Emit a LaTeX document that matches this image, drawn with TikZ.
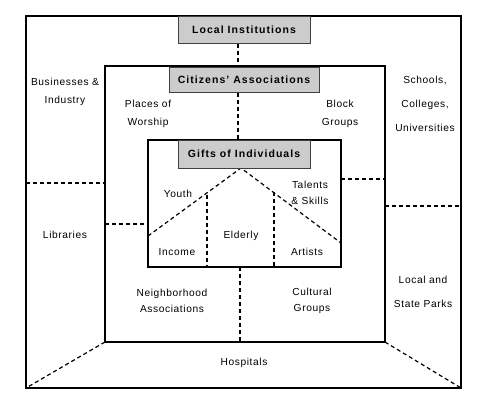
\documentclass[tikz,border=0pt]{standalone}
\usepackage{fontspec}
\setmainfont{Liberation Sans}[LetterSpace=6]
\begin{document}
\begin{tikzpicture}[x=1pt,y=-1pt,
  lbl/.style={font=\fontsize{10.2}{18}\selectfont, align=center, inner sep=0pt},
  titlebox/.style={draw=black!75, fill=black!20, line width=0.8pt, font=\fontsize{10.5}{12}\selectfont\bfseries\addfontfeature{LetterSpace=10}, inner sep=0pt},
  frame1/.style={draw=black, line width=2.6pt},
  frame2/.style={draw=black, line width=2.2pt},
  dsh/.style={draw=black, line width=1.2pt, dash pattern=on 4pt off 3pt}]
\useasboundingbox (0,0) rectangle (487,408);
% frames
\coordinate (oTL) at (26,16); \coordinate (oBR) at (461,388);
\coordinate (oBL) at (26,388); \coordinate (oTR) at (461,16);
\coordinate (mTL) at (105,66); \coordinate (mBR) at (385,342);
\coordinate (mBL) at (105,342); \coordinate (mTR) at (385,66);
\coordinate (iTL) at (148,140); \coordinate (iBR) at (341,267);
\coordinate (iBL) at (148,267); \coordinate (iTR) at (341,140);
% dashed connectors
\draw[dsh] (mBL) -- (oBL);
\draw[dsh] (mBR) -- (oBR);
\draw[dsh] (26,183) -- (105,183);
\draw[dsh] (105,224) -- (148,224);
\draw[dsh] (341,179) -- (385,179);
\draw[dsh] (385,206) -- (461,206);
\draw[dsh] (240,267) -- (240,342);
\coordinate (apex) at (241,168);
\coordinate (lft) at (148,236);
\coordinate (rgt) at (341,243);
\draw[dsh] (lft) -- (apex) -- (rgt);
\draw[dsh] (207,195) -- (207,267);
\draw[dsh] (274,192) -- (274,267);
\draw[frame1] (oTL) rectangle (oBR);
\draw[frame2] (mTL) rectangle (mBR);
\draw[frame2] (iTL) rectangle (iBR);
% title boxes
\node[titlebox, minimum width=132pt, minimum height=27pt] (li) at (244,29.5) {Local Institutions};
\node[titlebox, minimum width=150pt, minimum height=25pt] (ca) at (244,79.5) {Citizens' Associations};
\node[titlebox, minimum width=132pt, minimum height=28pt] (gi) at (244,154) {Gifts of Individuals};
\draw[dsh] (238,43.6) -- (238,66);
\draw[dsh] (238,92.6) -- (238,140);
% labels
\node[lbl] (bus) at (65,92) {Businesses \&\\Industry};
\node[lbl] (pow) at (148,114) {Places of\\Worship};
\node[lbl] (blk) at (340,114) {Block\\Groups};
\node[lbl, font=\fontsize{10.2}{24}\selectfont] (sch) at (425,104) {Schools,\\Colleges,\\Universities};
\node[lbl] (you) at (178,194) {Youth};
\node[lbl, font=\fontsize{10.2}{16}\selectfont] (tal) at (310,193) {Talents\\\& Skills};
\node[lbl] (lib) at (65,235) {Libraries};
\node[lbl] (eld) at (241,236) {Elderly};
\node[lbl] (inc) at (177,252) {Income};
\node[lbl] (art) at (307,252) {Artists};
\node[lbl, font=\fontsize{10.2}{16}\selectfont] (nei) at (172,301) {Neighborhood\\Associations};
\node[lbl, font=\fontsize{10.2}{16}\selectfont] (cul) at (312,301) {Cultural\\Groups};
\node[lbl, font=\fontsize{10.2}{24}\selectfont] (par) at (423,292) {Local and\\State Parks};
\node[lbl] (hos) at (244,363) {Hospitals};
\end{tikzpicture}
\end{document}
